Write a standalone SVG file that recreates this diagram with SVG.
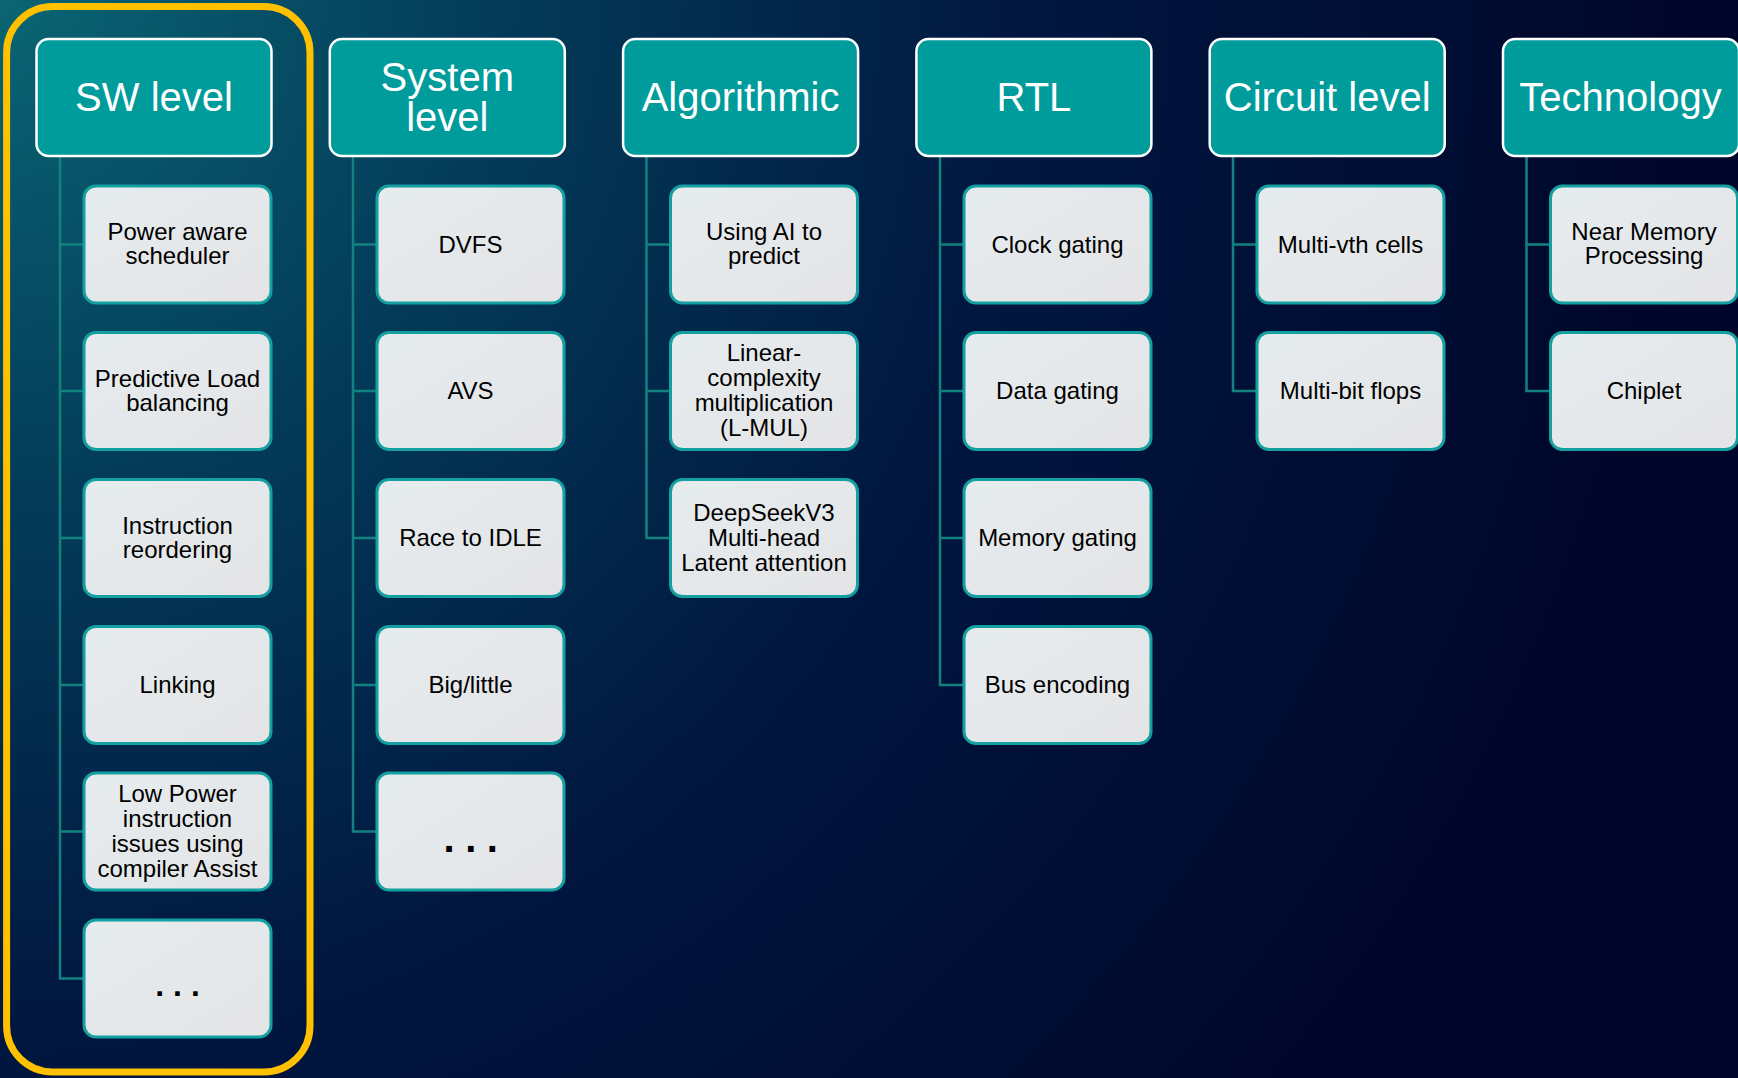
<svg xmlns="http://www.w3.org/2000/svg" width="1738" height="1078" viewBox="0 0 1738 1078">
<defs>
<radialGradient id="bg" cx="0" cy="0" r="1700" gradientUnits="userSpaceOnUse">
<stop offset="0" stop-color="#0a6573"/>
<stop offset="0.3" stop-color="#033a58"/>
<stop offset="0.6" stop-color="#011740"/>
<stop offset="1" stop-color="#00062a"/>
</radialGradient>
<linearGradient id="cf" x1="0" y1="0" x2="1" y2="1">
<stop offset="0" stop-color="#e6ecee"/>
<stop offset="1" stop-color="#e4e4e6"/>
</linearGradient>
<style>
.hd{fill:#009b9b;stroke:#ffffff;stroke-width:2.5}
.ch{fill:url(#cf);stroke:#14a0a0;stroke-width:3}
.ht{font-family:"Liberation Sans",Arial,sans-serif;font-size:40px;fill:#ffffff;text-anchor:middle}
.ct{font-family:"Liberation Sans",Arial,sans-serif;font-size:24px;fill:#000000;text-anchor:middle}
.dt{font-family:"Liberation Sans",Arial,sans-serif;font-weight:bold;fill:#000000;text-anchor:middle}
.cn{fill:none;stroke:#12827f;stroke-width:2.5}
</style>
</defs>
<rect width="1738" height="1078" fill="url(#bg)"/>
<rect x="6.6" y="6.6" width="303.4" height="1065.4" rx="46" fill="none" stroke="#ffc000" stroke-width="7"/>

<g id="connectors">
<path class="cn" d="M60,156 V978.5 H84 M60,244.5 H84 M60,391 H84 M60,538 H84 M60,685 H84 M60,831.5 H84"/>
<path class="cn" d="M353,156 V831.5 H377 M353,244.5 H377 M353,391 H377 M353,538 H377 M353,685 H377"/>
<path class="cn" d="M646.5,156 V538 H670.5 M646.5,244.5 H670.5 M646.5,391 H670.5"/>
<path class="cn" d="M940,156 V685 H964 M940,244.5 H964 M940,391 H964 M940,538 H964"/>
<path class="cn" d="M1233,156 V391 H1257 M1233,244.5 H1257"/>
<path class="cn" d="M1526.5,156 V391 H1550.5 M1526.5,244.5 H1550.5"/>
</g>

<g id="h-sw"><rect class="hd" x="36.5" y="39" width="235" height="117" rx="12"/><text class="ht" x="154" y="111">SW level</text></g>
<g id="h-sys"><rect class="hd" x="329.8" y="39" width="235" height="117" rx="12"/><text class="ht" x="447.3" y="91">System</text><text class="ht" x="447.3" y="131">level</text></g>
<g id="h-alg"><rect class="hd" x="623.1" y="39" width="235" height="117" rx="12"/><text class="ht" x="740.6" y="111">Algorithmic</text></g>
<g id="h-rtl"><rect class="hd" x="916.4" y="39" width="235" height="117" rx="12"/><text class="ht" x="1033.9" y="111">RTL</text></g>
<g id="h-cir"><rect class="hd" x="1209.7" y="39" width="235" height="117" rx="12"/><text class="ht" x="1327.2" y="111">Circuit level</text></g>
<g id="h-tech"><rect class="hd" x="1503" y="39" width="236" height="117" rx="12"/><text class="ht" x="1620.5" y="111">Technology</text></g>

<g id="sw-1"><rect class="ch" x="84" y="186" width="187" height="117" rx="12"/><text class="ct" x="177.5" y="240">Power aware</text><text class="ct" x="177.5" y="264">scheduler</text></g>
<g id="sw-2"><rect class="ch" x="84" y="332.5" width="187" height="117" rx="12"/><text class="ct" x="177.5" y="386.5">Predictive Load</text><text class="ct" x="177.5" y="410.5">balancing</text></g>
<g id="sw-3"><rect class="ch" x="84" y="479.5" width="187" height="117" rx="12"/><text class="ct" x="177.5" y="533.5">Instruction</text><text class="ct" x="177.5" y="557.5">reordering</text></g>
<g id="sw-4"><rect class="ch" x="84" y="626.5" width="187" height="117" rx="12"/><text class="ct" x="177.5" y="693">Linking</text></g>
<g id="sw-5"><rect class="ch" x="84" y="773" width="187" height="117" rx="12"/><text class="ct" x="177.5" y="802">Low Power</text><text class="ct" x="177.5" y="827">instruction</text><text class="ct" x="177.5" y="852">issues using</text><text class="ct" x="177.5" y="877">compiler Assist</text></g>
<g id="sw-6"><rect class="ch" x="84" y="920" width="187" height="117" rx="12"/><text class="dt" x="182" y="996" font-size="32" letter-spacing="9">...</text></g>

<g id="sys-1"><rect class="ch" x="377" y="186" width="187" height="117" rx="12"/><text class="ct" x="470.5" y="252.5">DVFS</text></g>
<g id="sys-2"><rect class="ch" x="377" y="332.5" width="187" height="117" rx="12"/><text class="ct" x="470.5" y="399">AVS</text></g>
<g id="sys-3"><rect class="ch" x="377" y="479.5" width="187" height="117" rx="12"/><text class="ct" x="470.5" y="546">Race to IDLE</text></g>
<g id="sys-4"><rect class="ch" x="377" y="626.5" width="187" height="117" rx="12"/><text class="ct" x="470.5" y="693">Big/little</text></g>
<g id="sys-5"><rect class="ch" x="377" y="773" width="187" height="117" rx="12"/><text class="dt" x="476" y="852" font-size="40" letter-spacing="10.5">...</text></g>

<g id="alg-1"><rect class="ch" x="670.5" y="186" width="187" height="117" rx="12"/><text class="ct" x="764" y="240">Using AI to</text><text class="ct" x="764" y="264">predict</text></g>
<g id="alg-2"><rect class="ch" x="670.5" y="332.5" width="187" height="117" rx="12"/><text class="ct" x="764" y="361">Linear-</text><text class="ct" x="764" y="386">complexity</text><text class="ct" x="764" y="411">multiplication</text><text class="ct" x="764" y="436">(L-MUL)</text></g>
<g id="alg-3"><rect class="ch" x="670.5" y="479.5" width="187" height="117" rx="12"/><text class="ct" x="764" y="520.5">DeepSeekV3</text><text class="ct" x="764" y="545.5">Multi-head</text><text class="ct" x="764" y="570.5">Latent attention</text></g>

<g id="rtl-1"><rect class="ch" x="964" y="186" width="187" height="117" rx="12"/><text class="ct" x="1057.5" y="252.5">Clock gating</text></g>
<g id="rtl-2"><rect class="ch" x="964" y="332.5" width="187" height="117" rx="12"/><text class="ct" x="1057.5" y="399">Data gating</text></g>
<g id="rtl-3"><rect class="ch" x="964" y="479.5" width="187" height="117" rx="12"/><text class="ct" x="1057.5" y="546">Memory gating</text></g>
<g id="rtl-4"><rect class="ch" x="964" y="626.5" width="187" height="117" rx="12"/><text class="ct" x="1057.5" y="693">Bus encoding</text></g>

<g id="cir-1"><rect class="ch" x="1257" y="186" width="187" height="117" rx="12"/><text class="ct" x="1350.5" y="252.5">Multi-vth cells</text></g>
<g id="cir-2"><rect class="ch" x="1257" y="332.5" width="187" height="117" rx="12"/><text class="ct" x="1350.5" y="399">Multi-bit flops</text></g>

<g id="tech-1"><rect class="ch" x="1550.5" y="186" width="187" height="117" rx="12"/><text class="ct" x="1644" y="240">Near Memory</text><text class="ct" x="1644" y="264">Processing</text></g>
<g id="tech-2"><rect class="ch" x="1550.5" y="332.5" width="187" height="117" rx="12"/><text class="ct" x="1644" y="399">Chiplet</text></g>
</svg>
